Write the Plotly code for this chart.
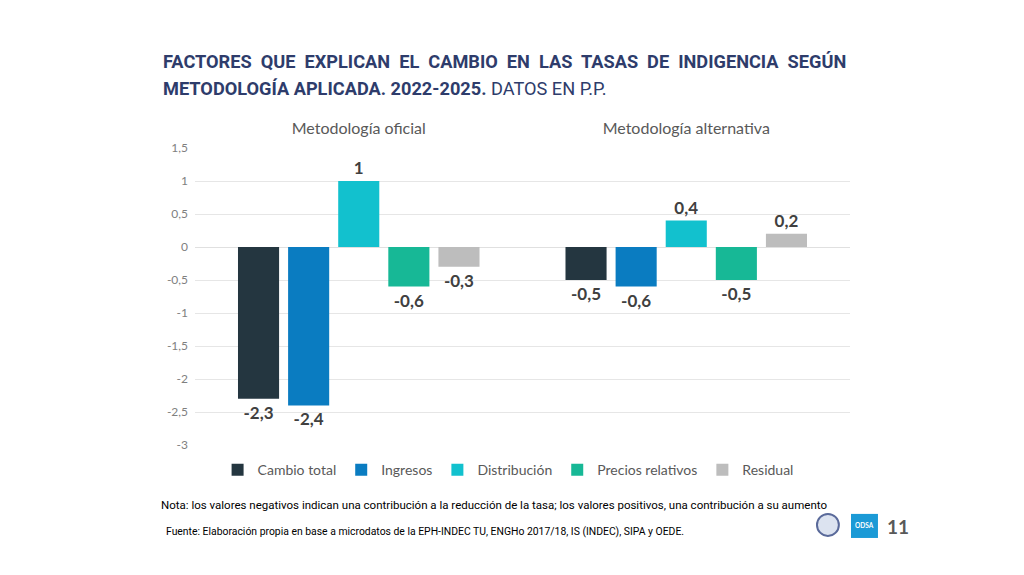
import plotly.graph_objects as go

## Data

metodologias = ["Metodología oficial", "Metodología alternativa"]
series = ["Cambio total", "Ingresos", "Distribución", "Precios relativos", "Residual"]
colores = ["#243640", "#0A7CC1", "#12C1CE", "#17B896", "#BDBDBD"]

cambio_total = [-2.3, -0.5]
ingresos = [-2.4, -0.6]
distribucion = [1, 0.4]
precios_relativos = [-0.6, -0.5]
residual = [-0.3, 0.2]

valores = [cambio_total, ingresos, distribucion, precios_relativos, residual]

y_ticks = [1.5, 1, 0.5, 0, -0.5, -1, -1.5, -2, -2.5, -3]


def fmt(v):
    # comma as decimal separator, like the original
    s = ("%g" % v).replace(".", ",")
    return s


fig = go.Figure()

for name, vals, col in zip(series, valores, colores):
    fig.add_trace(go.Bar(
        x=metodologias, y=vals, name=name,
        marker_color=col, marker_line_width=0,
        text=[fmt(v) for v in vals], textposition="outside",
        textfont=dict(family="Lato, sans-serif", size=17, color="#404040", weight="bold"),
        cliponaxis=False,
    ))

# the page body adds 8px, so margins are shifted by 8
fig.update_layout(
    width=1024, height=575,
    paper_bgcolor="white", plot_bgcolor="white",
    margin=dict(l=187, r=182, t=140, b=138, autoexpand=False),
    barmode="group", bargap=0.235, bargroupgap=0.18,
    font=dict(family="Lato, sans-serif"),
    showlegend=True,
    legend=dict(orientation="h", x=0.478, xanchor="center", y=-0.085, yanchor="middle",
                font=dict(size=14, color="#595959"), itemwidth=30,
                traceorder="normal"),
)

fig.update_xaxes(side="top", showgrid=False, showline=False, ticks="",
                 tickfont=dict(size=16, color="#595959"), ticklabelstandoff=10)
fig.update_yaxes(range=[-3, 1.5], tickvals=y_ticks, ticktext=[fmt(v) for v in y_ticks],
                 showgrid=True, gridcolor="#E6E6E6", gridwidth=1,
                 zeroline=True, zerolinecolor="#E0E0E0", zerolinewidth=1,
                 tickfont=dict(size=12, color="#7F7F7F"), ticklabelstandoff=6)

# title
fig.add_annotation(xref="paper", yref="paper", x=-0.052, y=1.29, xanchor="left", yanchor="middle",
                   showarrow=False, align="left",
                   text="<b>FACTORES  QUE  EXPLICAN  EL  CAMBIO  EN  LAS  TASAS  DE  INDIGENCIA  SEGÚN</b>",
                   font=dict(size=18.2, color="#2E3C6B", family="Roboto, sans-serif"))
fig.add_annotation(xref="paper", yref="paper", x=-0.052, y=1.202, xanchor="left", yanchor="middle",
                   showarrow=False, align="left",
                   text="<b>METODOLOGÍA APLICADA. 2022-2025.</b> DATOS EN P.P.",
                   font=dict(size=18.2, color="#2E3C6B", family="Roboto, sans-serif"))

# notes
fig.add_annotation(xref="paper", yref="paper", x=-0.055, y=-0.202, xanchor="left", yanchor="middle",
                   showarrow=False,
                   text="Nota: los valores negativos indican una contribución a la reducción de la tasa; los valores positivos, una contribución a su aumento",
                   font=dict(size=11.5, color="#000000", family="Roboto, sans-serif"))
fig.add_annotation(xref="paper", yref="paper", x=-0.047, y=-0.29, xanchor="left", yanchor="middle",
                   showarrow=False,
                   text="Fuente: Elaboración propia en base a microdatos de la EPH-INDEC TU, ENGHo 2017/18, IS (INDEC), SIPA y OEDE.",
                   font=dict(size=10.4, color="#000000", family="Roboto, sans-serif"))

# logos and page number
fig.add_shape(type="circle", xref="paper", yref="paper", x0=0.9496, x1=0.983, y0=-0.306, y1=-0.232,
              line=dict(color="#5A6A9A", width=2), fillcolor="#DCE3F0")
fig.add_shape(type="rect", xref="paper", yref="paper", x0=1.0015, x1=1.0427, y0=-0.313, y1=-0.232,
              line_width=0, fillcolor="#1B9AD6")
fig.add_annotation(xref="paper", yref="paper", x=1.0221, y=-0.2725, xanchor="center", yanchor="middle",
                   showarrow=False, text="<b>ODSA</b>", font=dict(size=6.5, color="white"))
fig.add_annotation(xref="paper", yref="paper", x=1.0535, y=-0.276, xanchor="left", yanchor="middle",
                   showarrow=False, text="<b>11</b>", font=dict(size=19, color="#595959"))

fig.write_html("out.html")
